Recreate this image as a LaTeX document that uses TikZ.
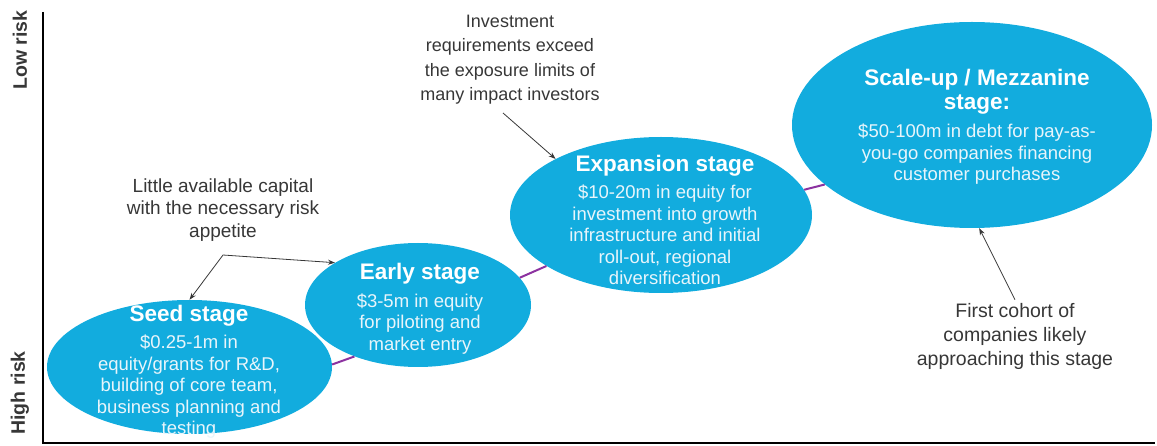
\documentclass[tikz,border=0pt]{standalone}
\usepackage{fontspec}
\setmainfont{Liberation Sans}
\usetikzlibrary{shapes.geometric,arrows.meta,calc}
\definecolor{stagefill}{RGB}{18,172,222}
\definecolor{linkpurple}{RGB}{140,50,160}
\definecolor{annot}{RGB}{55,55,55}
\definecolor{bodytext}{RGB}{232,245,251}
\newcommand\stagetitle[1]{{\color{white}\bfseries\fontsize{22.5}{23}\selectfont #1}}
\begin{document}
\begin{tikzpicture}[x=1pt,y=-1pt,
  stage/.style={ellipse, fill=stagefill, draw=none, inner sep=0pt},
  stagetext/.style={align=center, text=bodytext, font=\fontsize{18.5}{21.5}\selectfont, inner sep=0pt},
  note/.style={align=center, text=annot, inner sep=3pt},
  pointer/.style={draw=annot, line width=0.8pt, -{Stealth[length=7pt,width=5pt]}},
  link/.style={draw=linkpurple, line width=2pt},
  axislabel/.style={rotate=90, font=\bfseries\fontsize{19.5}{22}\selectfont, text=annot, inner sep=0pt}
]
\useasboundingbox (0,0) rectangle (1157,446);

% axes
\coordinate (axtop) at (43,12);
\coordinate (axorigin) at (43,443);
\coordinate (axright) at (1155,443);
\draw[line width=2.5pt] (axtop) -- (axorigin) -- (axright);
\node[axislabel] (lowrisk) at (20,50) {Low risk};
\node[axislabel] (highrisk) at (20,393) {High risk};

% stages
\node[stage, minimum width=285pt, minimum height=134pt] (seed) at (189.5,367) {};
\node[stage, minimum width=226pt, minimum height=124pt] (early) at (418,305) {};
\node[stage, minimum width=302pt, minimum height=156pt] (expansion) at (661,215) {};
\node[stage, minimum width=360pt, minimum height=206pt] (scale) at (972,125) {};

% purple links between stages
\draw[link] (seed.1) -- (early.219);
\draw[link] (early.15) -- (expansion.204);
\draw[link] (expansion.10) -- (scale.202);

% stage texts
\node[stagetext] (seedtext) at (189,372) {\stagetitle{Seed stage}\\[6pt] \$0.25-1m in\\ equity/grants for R\&D,\\ building of core team,\\ business planning and\\ testing};
\node[stagetext] (earlytext) at (420,309) {\stagetitle{Early stage}\\[6pt] \$3-5m in equity\\ for piloting and\\ market entry};
\node[stagetext] (expansiontext) at (665,220) {\stagetitle{Expansion stage}\\[6pt] \$10-20m in equity for\\ investment into growth\\ infrastructure and initial\\ roll-out, regional\\ diversification};
\node[stagetext] (scaletext) at (977,127) {\stagetitle{Scale-up / Mezzanine}\\[2pt] \stagetitle{stage:}\\[7pt] \$50-100m in debt for pay-as-\\ you-go companies financing\\ customer purchases};

% annotations
\node[note, font=\fontsize{19}{22.5}\selectfont] (little) at (223,210) {Little available capital\\ with the necessary risk\\ appetite};
\node[note, font=\fontsize{18}{24.5}\selectfont] (invest) at (510,59.5) {Investment\\ requirements exceed\\ the exposure limits of\\ many impact investors};
\node[note, font=\fontsize{19.5}{24}\selectfont] (cohort) at (1015,336) {First cohort of\\ companies likely\\ approaching this stage};

\coordinate (fork) at (223,255);
\draw[pointer, {Stealth[length=7pt,width=5pt]}-{Stealth[length=7pt,width=5pt]}] (seed.north) -- (fork) -- (early.153);
\coordinate (investtail) at (503,113);
\draw[pointer] (investtail) -- (expansion.152);
\draw[pointer] (cohort.north) -- (scale.274);
\end{tikzpicture}
\end{document}
